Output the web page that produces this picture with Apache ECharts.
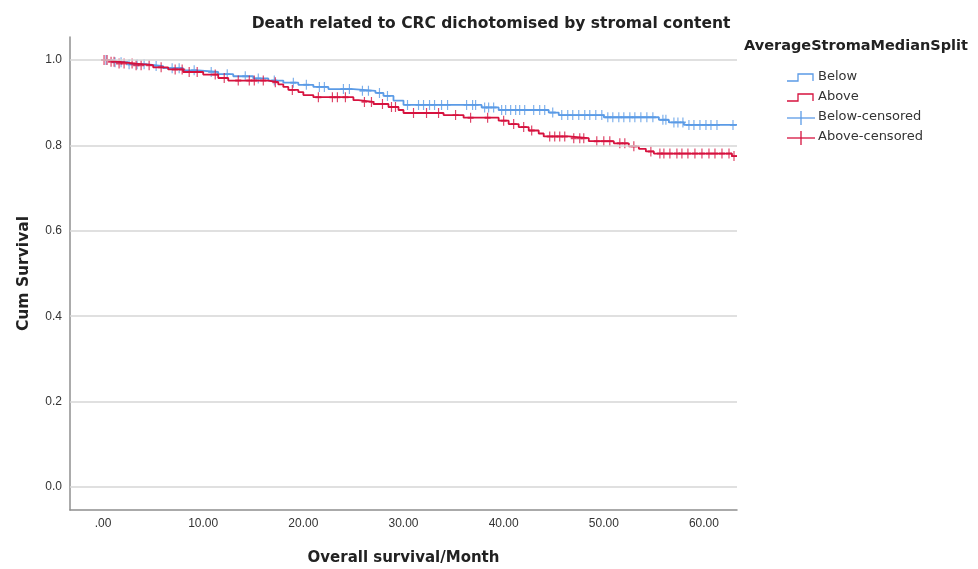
<!DOCTYPE html>
<html>
<head>
<meta charset="utf-8">
<title>Death related to CRC dichotomised by stromal content</title>
<script src="https://cdn.jsdelivr.net/npm/echarts@6/dist/echarts.min.js"></script>
<style>
  html, body { margin: 0; padding: 0; background: #ffffff; }
  #chart { width: 978px; height: 569px; }
</style>
</head>
<body>
<div id="chart"></div>
<script>
// Kaplan-Meier estimates: event times (months) and survival after each step
const belowTimes = [0, 1.0, 2.5, 4.5, 6.0, 8.0, 9.5, 11.5, 13.0, 15.0, 16.5, 18.0, 19.5, 21.0, 22.5, 25.0, 27.2, 28.0, 29.0, 30.0, 37.8, 39.5, 44.5, 45.5, 50.0, 55.5, 56.5, 58.0];
const belowSurv  = [1.0, 0.995, 0.990, 0.986, 0.981, 0.976, 0.972, 0.967, 0.962, 0.957, 0.952, 0.947, 0.942, 0.937, 0.932, 0.928, 0.923, 0.916, 0.905, 0.895, 0.889, 0.883, 0.877, 0.871, 0.866, 0.860, 0.854, 0.848];

const aboveTimes = [0, 0.5, 1.5, 3.0, 5.0, 6.5, 8.0, 10.0, 11.5, 12.5, 16.5, 17.5, 18.0, 18.5, 19.5, 20.0, 21.0, 25.0, 25.5, 27.0, 28.5, 29.5, 30.0, 34.0, 36.0, 39.5, 40.5, 41.5, 42.5, 43.5, 44.0, 46.5, 48.5, 51.0, 52.5, 53.5, 54.2, 55.0, 62.8];
const aboveSurv  = [1.0, 0.996, 0.992, 0.988, 0.983, 0.978, 0.972, 0.966, 0.958, 0.952, 0.948, 0.943, 0.937, 0.930, 0.925, 0.918, 0.913, 0.906, 0.902, 0.897, 0.890, 0.883, 0.876, 0.871, 0.865, 0.858, 0.850, 0.843, 0.835, 0.828, 0.821, 0.817, 0.810, 0.805, 0.798, 0.792, 0.786, 0.781, 0.775];

// Last follow-up time of each group
const belowLastFollowUp = 63.3;
const aboveLastFollowUp = 63.3;

// Censored observations (months)
const belowCensored = [0.3, 1.2, 1.8, 2.6, 3.4, 4.1, 5.3, 6.9, 7.6, 9.1, 10.8, 12.4, 14.2, 15.5, 17.1, 19.0, 20.3, 21.6, 22.1, 24.0, 24.6, 25.9, 26.5, 27.6, 28.4, 30.4, 31.5, 32.0, 32.6, 33.1, 33.8, 34.4, 36.3, 36.9, 37.2, 38.1, 38.5, 39.0, 39.8, 40.2, 40.7, 41.2, 41.6, 42.1, 43.0, 43.6, 44.1, 44.9, 45.8, 46.4, 46.9, 47.5, 48.1, 48.6, 49.2, 49.8, 50.4, 50.9, 51.5, 52.0, 52.6, 53.1, 53.7, 54.3, 54.9, 55.9, 56.2, 57.0, 57.4, 57.9, 58.5, 59.0, 59.6, 60.2, 60.7, 61.3, 62.9];
const aboveCensored = [0.1, 0.4, 0.8, 1.1, 1.6, 2.1, 2.9, 3.3, 3.8, 4.6, 5.8, 7.2, 7.9, 8.6, 9.4, 11.2, 12.1, 13.5, 14.6, 15.1, 16.0, 17.2, 18.9, 21.5, 22.9, 23.4, 24.2, 26.1, 26.8, 27.9, 28.8, 29.2, 31.0, 32.3, 33.5, 35.2, 36.7, 38.4, 40.0, 41.0, 42.0, 42.8, 44.6, 45.1, 45.6, 46.1, 47.0, 47.6, 48.0, 49.3, 50.0, 50.6, 51.6, 52.1, 53.0, 54.7, 55.6, 56.0, 56.6, 57.3, 57.8, 58.4, 59.1, 59.8, 60.5, 61.1, 61.8, 62.5, 63.0];

// Axis ticks
const xTicks = [0, 10, 20, 30, 40, 50, 60];
const yTicks = [0, 0.2, 0.4, 0.6, 0.8, 1.0];

const groupNames = ['Below', 'Above'];
const COLOR_BELOW = '#5b9be6';
const COLOR_ABOVE = '#d6123e';

const WIDE_FONT = '"DejaVu Sans", Verdana, sans-serif';
const NARROW_FONT = '"Liberation Sans", Arial, sans-serif';

// survival value of a step curve at time t
function survAt(times, surv, t) {
  let s = surv[0];
  for (let i = 0; i < times.length; i++) {
    if (times[i] <= t) s = surv[i];
  }
  return s;
}

function stepData(times, surv, lastT) {
  const d = times.map((t, i) => [t, surv[i]]);
  d.push([lastT, surv[surv.length - 1]]);
  return d;
}

function censorData(times, surv, cens) {
  return cens.map(t => [t, survAt(times, surv, t)]);
}

const plusSymbol = 'path://M5,0 L5,10 M0,5 L10,5';

const chart = echarts.init(document.getElementById('chart'), null, { renderer: 'canvas' });

const legendX = 787;
const legendRows = [78, 98, 118, 138];

function stepIcon(y, color) {
  return {
    type: 'polyline',
    shape: { points: [[legendX, y + 3], [legendX + 11, y + 3], [legendX + 11, y - 4], [legendX + 26, y - 4], [legendX + 26, y + 3]] },
    style: { stroke: color, lineWidth: 1.3, fill: null }
  };
}
function plusIcon(y, color) {
  return {
    type: 'group',
    children: [
      { type: 'line', shape: { x1: legendX, y1: y, x2: legendX + 28, y2: y }, style: { stroke: color, lineWidth: 1.3 } },
      { type: 'line', shape: { x1: legendX + 14, y1: y - 7, x2: legendX + 14, y2: y + 7 }, style: { stroke: color, lineWidth: 1.3 } }
    ]
  };
}
function legendText(y, text) {
  return {
    type: 'text', left: legendX + 31, top: y - 8,
    style: { text: text, fill: '#333333', font: '13px ' + WIDE_FONT }
  };
}

const option = {
  backgroundColor: '#ffffff',
  animation: false,
  title: {
    text: 'Death related to CRC dichotomised by stromal content',
    left: 486, top: 11, textAlign: 'center',
    textStyle: { fontFamily: WIDE_FONT, fontSize: 15.5, fontWeight: 'bold', color: '#222222' }
  },
  grid: { left: 70, right: 241, top: 37, bottom: 59, containLabel: false, outerBoundsMode: 'none' },
  xAxis: {
    type: 'value', min: -3.3, max: 63.3,
    name: 'Overall survival/Month', nameLocation: 'middle', nameGap: 41,
    nameTextStyle: { fontFamily: WIDE_FONT, fontSize: 15, fontWeight: 'bold', color: '#222222' },
    axisLine: { show: true, onZero: false, lineStyle: { color: '#8f8f8f', width: 1.5 } },
    axisTick: { show: false },
    splitLine: { show: false },
    axisLabel: {
      customValues: xTicks, margin: 8,
      formatter: v => (v === 0 ? '.00' : v.toFixed(2)),
      fontFamily: NARROW_FONT, fontSize: 12, color: '#333333'
    }
  },
  yAxis: {
    type: 'value', min: -0.054, max: 1.054,
    name: 'Cum Survival', nameLocation: 'middle', nameGap: 38, nameRotate: 90,
    nameTextStyle: { fontFamily: WIDE_FONT, fontSize: 15.5, fontWeight: 'bold', color: '#222222' },
    axisLine: { show: true, onZero: false, lineStyle: { color: '#8f8f8f', width: 1.5 } },
    axisTick: { show: false },
    splitLine: { show: false },
    axisLabel: {
      customValues: yTicks, margin: 8,
      formatter: v => v.toFixed(1),
      fontFamily: NARROW_FONT, fontSize: 12, color: '#333333'
    }
  },
  series: [
    {
      name: 'gridlines', type: 'line', data: [], silent: true,
      markLine: {
        silent: true, symbol: ['none', 'none'], label: { show: false },
        lineStyle: { color: '#d6d6d6', width: 1.5, type: 'solid' },
        data: yTicks.map(v => ({ yAxis: v }))
      }
    },
    {
      name: groupNames[0], type: 'line', step: 'end', showSymbol: false, z: 3,
      data: stepData(belowTimes, belowSurv, belowLastFollowUp),
      lineStyle: { color: COLOR_BELOW, width: 1.8 }
    },
    {
      name: groupNames[1], type: 'line', step: 'end', showSymbol: false, z: 4,
      data: stepData(aboveTimes, aboveSurv, aboveLastFollowUp),
      lineStyle: { color: COLOR_ABOVE, width: 1.8 }
    },
    {
      name: groupNames[0] + '-censored', type: 'scatter', z: 3,
      symbol: plusSymbol, symbolSize: [6, 10],
      itemStyle: { color: 'none', borderColor: COLOR_BELOW, borderWidth: 1.5 },
      data: censorData(belowTimes, belowSurv, belowCensored)
    },
    {
      name: groupNames[1] + '-censored', type: 'scatter', z: 4,
      symbol: plusSymbol, symbolSize: [6, 10],
      itemStyle: { color: 'none', borderColor: COLOR_ABOVE, borderWidth: 1.5 },
      data: censorData(aboveTimes, aboveSurv, aboveCensored)
    }
  ],
  graphic: [
    {
      type: 'text', left: 744, top: 39,
      style: { text: 'AverageStromaMedianSplit', fill: '#222222', font: 'bold 14.5px ' + WIDE_FONT }
    },
    stepIcon(legendRows[0], COLOR_BELOW),
    legendText(legendRows[0], groupNames[0]),
    stepIcon(legendRows[1], COLOR_ABOVE),
    legendText(legendRows[1], groupNames[1]),
    plusIcon(legendRows[2], COLOR_BELOW),
    legendText(legendRows[2], groupNames[0] + '-censored'),
    plusIcon(legendRows[3], COLOR_ABOVE),
    legendText(legendRows[3], groupNames[1] + '-censored')
  ]
};

chart.setOption(option);
</script>
</body>
</html>
